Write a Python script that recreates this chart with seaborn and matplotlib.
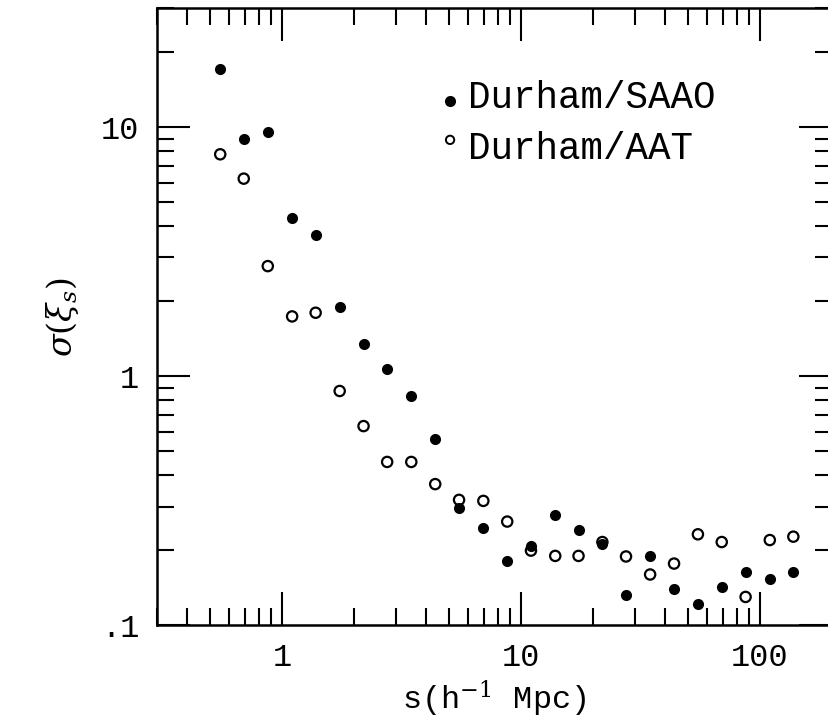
import numpy as np
import pandas as pd
import seaborn as sns
import matplotlib.pyplot as plt

# separation bins (h^-1 Mpc)
s_bins = [0.55, 0.69, 0.87, 1.10, 1.38, 1.74, 2.19, 2.75, 3.47, 4.37, 5.50, 6.95, 8.75,
          11.0, 13.9, 17.4, 21.9, 27.5, 34.7, 43.7, 55.0, 69.2, 87.1, 110.0, 138.0]
# sigma(xi_s), Durham/SAAO (filled)
sig_saao = [17.2, 8.95, 9.6, 4.31, 3.69, 1.89, 1.35, 1.07, 0.836, 0.558, 0.296, 0.247, 0.181,
            0.208, 0.277, 0.241, 0.212, 0.132, 0.190, 0.140, 0.122, 0.142, 0.163, 0.153, 0.163]
# sigma(xi_s), Durham/AAT (open)
sig_aat = [7.79, 6.22, 2.77, 1.74, 1.80, 0.873, 0.631, 0.453, 0.453, 0.369, 0.319, 0.316, 0.261,
           0.1995, 0.190, 0.190, 0.216, 0.189, 0.160, 0.177, 0.232, 0.216, 0.130, 0.220, 0.227]
labels = ['Durham/SAAO', 'Durham/AAT']

sns.set_theme(style='ticks')
plt.rcParams['font.family'] = ['Liberation Mono', 'DejaVu Sans']
plt.rcParams['mathtext.fontset'] = 'dejavuserif'
plt.rcParams['text.color'] = 'black'
plt.rcParams['axes.labelcolor'] = 'black'

df = pd.DataFrame({'s': s_bins, 'saao': sig_saao, 'aat': sig_aat})

fig = plt.figure(figsize=(8.29, 7.19), dpi=100)
ax = fig.add_axes([0.1898, 0.1303, 0.8136, 0.8579])

sns.scatterplot(data=df, x='s', y='saao', ax=ax, color='black', s=64, linewidth=0)
sns.scatterplot(data=df, x='s', y='aat', ax=ax, color='black', s=55, linewidth=1.6)
pts = ax.collections[-1]
pts.set_facecolor('none')
pts.set_edgecolor('black')

ax.set_xscale('log')
ax.set_yscale('log')
ax.set_xlim(0.3, 200)
ax.set_ylim(0.1, 30)
ax.set_xticks([1, 10, 100], ['1', '10', '100'])
ax.set_yticks([0.1, 1, 10], ['.1', '1', '10'])

ax.tick_params(which='both', direction='in', top=True, right=True, width=1.5,
               color='black', labelcolor='black')
ax.tick_params(which='major', length=24, labelsize=23, pad=13)
ax.tick_params(which='minor', length=12)
for sp in ax.spines.values():
    sp.set_linewidth(1.8)
    sp.set_color('black')

ax.set_xlabel(r's(h$^{-1}$ Mpc)', fontsize=23, labelpad=4, color='black')
ax.set_ylabel(r'$\sigma(\xi_s)$', fontsize=24, labelpad=14, color='black')

# legend drawn as text
ax.scatter([0.434], [0.850], transform=ax.transAxes, s=64, color='black', linewidth=0, clip_on=False)
ax.scatter([0.434], [0.787], transform=ax.transAxes, s=36, facecolor='none', edgecolor='black',
           linewidth=1.4, clip_on=False)
fig.text(468 / 829, 1 - 108 / 719, labels[0], fontsize=27, va='baseline', ha='left', color='black')
fig.text(468 / 829, 1 - 159 / 719, labels[1], fontsize=27, va='baseline', ha='left', color='black')

fig.savefig('out.png', dpi=100)
